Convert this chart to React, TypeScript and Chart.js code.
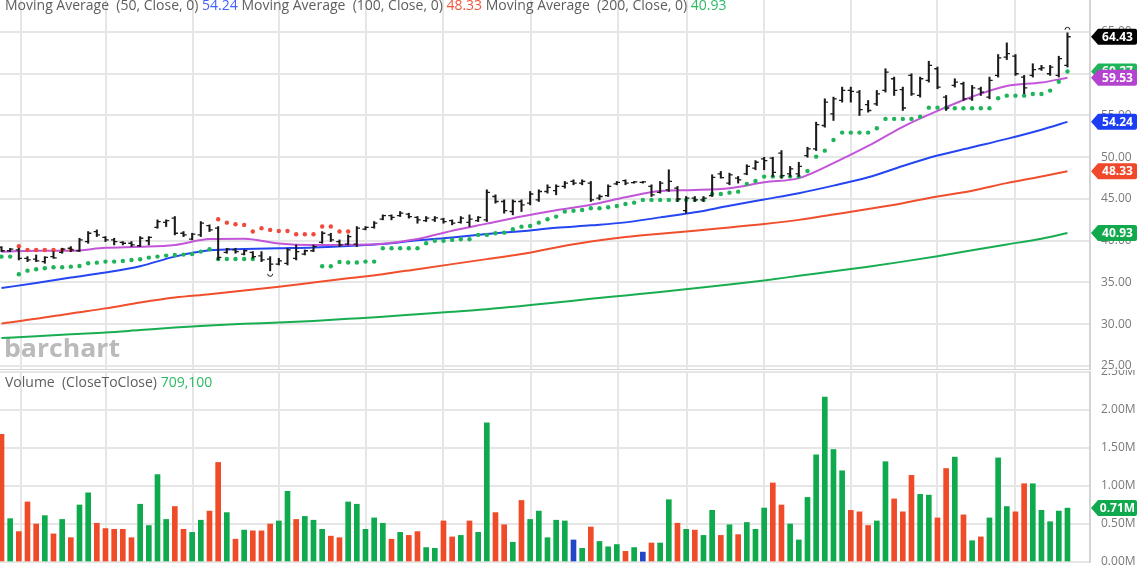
import React, { useEffect, useRef } from "react";
import { Chart, registerables } from "chart.js";

Chart.register(...registerables);

// ---------- DATA ----------
const opens = [
  39.2, 38.8, 38.9, 37.9, 37.8, 37.5, 38.1, 38.6, 39.1, 38.8,
  39.9, 41.1, 40.4, 40.1, 39.8, 39.7, 39.4, 40.0, 41.6, 42.2,
  42.7, 40.9, 40.2, 40.7, 41.8, 41.5, 38.6, 38.9, 38.4, 38.6,
  38.2, 37.8, 37.2, 37.3, 37.9, 38.4, 38.8, 39.8, 40.7, 39.9,
  39.6, 39.6, 41.4, 41.6, 42.6, 43.0, 43.0, 43.2, 42.8, 42.4,
  42.5, 42.6, 42.4, 42.2, 42.2, 42.4, 42.5, 45.3, 44.7, 43.5,
  44.7, 44.5, 44.9, 45.9, 46.0, 46.5, 47.1, 46.9, 46.9, 45.1,
  45.4, 46.8, 47.2, 46.95, 47.0, 46.5, 45.8, 46.1, 46.3, 43.6,
  45.1, 44.9, 45.4, 48.0, 46.9, 47.5, 48.0, 48.7, 49.8, 49.9,
  50.5, 48.0, 48.0, 50.2, 51.0, 53.8, 55.2, 56.8, 58.0, 57.8,
  56.3, 56.4, 58.0, 59.4, 58.1, 59.8, 57.4, 59.2, 60.6, 57.2,
  58.6, 58.8, 57.0, 58.2, 57.2, 59.8, 62.0, 62.1, 59.6, 59.8,
  60.6, 60.0, 59.8, 61.0,
];
const highs = [
  39.3, 39.1, 39.1, 38.1, 38.3, 38.1, 38.7, 39.1, 39.3, 40.3,
  41.1, 41.3, 40.5, 40.3, 39.9, 39.9, 40.5, 40.5, 42.5, 42.5,
  42.9, 41.1, 40.9, 42.3, 41.9, 41.7, 39.1, 39.1, 38.9, 38.7,
  38.7, 38.1, 37.9, 39.1, 39.5, 38.9, 39.5, 41.1, 40.9, 40.1,
  40.7, 41.7, 41.7, 42.3, 43.1, 43.1, 43.5, 43.3, 42.9, 42.9,
  42.9, 42.7, 42.5, 42.9, 43.1, 42.9, 46.1, 45.5, 44.9, 44.9,
  44.9, 45.9, 46.1, 46.7, 46.7, 47.1, 47.3, 47.3, 47.1, 45.5,
  46.7, 47.1, 47.3, 47.1, 47.1, 46.7, 47.1, 48.5, 46.5, 45.3,
  45.3, 45.3, 47.9, 48.3, 48.1, 47.7, 49.1, 49.6, 50.0, 50.0,
  50.8, 48.9, 49.4, 51.2, 54.2, 57.0, 57.2, 58.4, 58.4, 58.0,
  56.8, 58.0, 60.6, 59.6, 58.4, 60.0, 59.6, 61.5, 60.8, 57.4,
  59.4, 59.0, 58.6, 58.4, 59.6, 62.3, 63.7, 62.3, 59.8, 61.2,
  61.0, 61.0, 62.1, 64.9,
];
const lows = [
  38.7, 38.7, 37.7, 37.5, 37.5, 37.3, 37.9, 38.5, 38.7, 38.7,
  39.7, 40.5, 39.9, 39.5, 39.5, 39.3, 39.3, 39.5, 41.5, 41.7,
  40.7, 40.5, 40.1, 40.5, 41.1, 37.7, 38.5, 38.5, 38.3, 37.9,
  37.5, 36.4, 37.1, 37.1, 37.7, 38.3, 38.7, 39.7, 39.9, 39.3,
  39.5, 39.3, 41.3, 41.5, 42.5, 42.5, 42.9, 42.7, 42.1, 42.3,
  42.3, 42.1, 41.9, 42.1, 41.7, 42.3, 42.3, 44.5, 43.3, 43.1,
  43.5, 44.3, 44.7, 45.7, 45.5, 46.3, 46.7, 46.7, 44.7, 44.9,
  45.3, 46.7, 46.7, 46.9, 46.9, 45.3, 45.7, 45.9, 44.7, 43.3,
  44.7, 44.7, 45.3, 47.5, 46.7, 46.9, 47.9, 48.5, 48.5, 47.7,
  47.5, 47.7, 47.7, 50.0, 50.8, 53.6, 54.4, 56.6, 56.6, 55.0,
  55.4, 56.2, 57.8, 57.4, 55.6, 57.4, 57.2, 59.0, 58.2, 55.6,
  58.4, 56.8, 56.8, 57.4, 57.0, 59.6, 61.7, 59.8, 57.6, 59.6,
  60.4, 59.8, 59.6, 60.8,
];
const closes = [
  38.8, 39.0, 37.9, 37.7, 37.6, 38.0, 37.95, 39.0, 38.9, 40.1,
  40.9, 40.7, 40.1, 39.9, 39.7, 39.5, 40.3, 40.4, 42.3, 42.4,
  40.9, 40.7, 40.8, 42.1, 41.3, 38.0, 39.0, 38.7, 38.8, 38.1,
  37.7, 37.2, 37.6, 38.9, 38.7, 38.8, 39.3, 40.9, 40.1, 39.5,
  40.5, 41.5, 41.6, 42.1, 43.0, 42.8, 43.3, 42.9, 42.5, 42.7,
  42.75, 42.3, 42.1, 42.7, 42.6, 42.8, 45.8, 44.7, 43.6, 44.7,
  44.3, 45.6, 45.9, 46.4, 46.5, 46.9, 46.9, 47.1, 44.9, 45.3,
  46.5, 47.0, 46.9, 47.05, 47.05, 45.5, 46.9, 47.1, 45.0, 45.1,
  44.9, 45.1, 47.6, 47.55, 47.9, 47.3, 48.9, 49.4, 49.6, 48.2,
  47.8, 48.6, 48.9, 51.0, 53.9, 56.6, 57.0, 58.0, 57.9, 55.7,
  55.6, 57.6, 60.2, 58.0, 55.9, 57.6, 59.4, 61.0, 58.4, 55.9,
  59.0, 57.0, 58.3, 57.8, 59.2, 61.9, 62.4, 60.0, 58.3, 60.5,
  60.7, 60.8, 61.8, 64.43,
];

// volume in millions
const volumes = [
  1.68, 0.57, 0.40, 0.79, 0.50, 0.61, 0.37, 0.56, 0.32, 0.75,
  0.91, 0.51, 0.44, 0.43, 0.43, 0.32, 0.76, 0.48, 1.15, 0.56,
  0.73, 0.43, 0.39, 0.55, 0.67, 1.31, 0.65, 0.30, 0.42, 0.41,
  0.41, 0.50, 0.54, 0.93, 0.56, 0.60, 0.55, 0.43, 0.34, 0.32,
  0.79, 0.76, 0.43, 0.58, 0.51, 0.30, 0.39, 0.35, 0.40, 0.19,
  0.18, 0.54, 0.33, 0.35, 0.54, 0.39, 1.83, 0.65, 0.49, 0.26,
  0.81, 0.56, 0.67, 0.32, 0.55, 0.54, 0.29, 0.18, 0.46, 0.27,
  0.20, 0.23, 0.14, 0.19, 0.13, 0.25, 0.25, 0.82, 0.51, 0.43,
  0.42, 0.35, 0.68, 0.35, 0.49, 0.36, 0.52, 0.43, 0.71, 1.04,
  0.75, 0.50, 0.29, 0.85, 1.41, 2.17, 1.48, 1.20, 0.68, 0.66,
  0.48, 0.54, 1.32, 0.83, 0.66, 1.14, 0.89, 0.88, 0.58, 1.23,
  1.38, 0.62, 0.28, 0.33, 0.58, 1.37, 0.73, 0.66, 1.03, 1.03,
  0.68, 0.53, 0.67, 0.7091,
];
// close-to-close direction: g = up, r = down, b = unchanged
const volumeDirs = (
  "rgrrrgrgrg" + "grrrrrgggg" + "rrggrrgrgr" + "rrggrgggrr" +
  "gggggrgrrg" + "grrgrggrrg" + "rgggggbgrg" + "ggrgbrggrg" +
  "rggrgrgggr" + "rgggggggrr" + "rggrrrggrr" + "grgrgggrrg" + "gggg"
).split("");

const sarGreen = [
  38.1, 38.1, 35.99, 36.42, 36.59, 36.71, 36.83, 36.83, 36.9, 36.98,
  37.3, 37.38, 37.5, 37.5, 37.58, 37.7, 37.78, 37.98, 38.1, 38.22,
  38.3, 38.34, 38.42, 38.7, 38.98, 37.82, 37.82, 37.82, 37.82, 37.82,
  null, null, null, null, null, null, null, 36.95, 36.95, 37.45,
  37.4, 37.4, 37.5, 37.5, 39.1, 39.1, 39.1, 39.1, 39.1, 39.7,
  40.0, 40.0, 40.1, 40.18, 40.18, 40.7, 40.7, 40.9, 40.97, 41.38,
  41.69, 41.77, 42.17, 42.57, 42.89, 43.49, 43.6, 43.69, 43.89, 43.89,
  44.01, 44.17, 44.41, 44.56, 44.89, 44.89, 44.89, 44.89, 44.89, 44.89,
  44.89, 44.89, 45.6, 45.6, 45.76, 45.88, 46.8, 47.16, 47.68, 47.68,
  47.68, 47.68, 47.68, 48.36, 50.07, 50.79, 52.07, 52.95, 52.95, 52.95,
  52.95, 53.47, 54.59, 54.59, 54.59, 54.59, 54.86, 55.94, 55.94, 55.94,
  55.87, 55.87, 55.87, 55.87, 55.87, 57.07, 57.38, 57.38, 57.38, 57.58,
  57.58, 57.98, 59.05, 60.27,
];
const sarRed = [
  null, null, 39.35, 38.9, 38.9, 38.9, 38.9, 38.9, 38.9, null,
  null, null, null, null, null, null, null, null, null, null,
  null, null, null, null, null, 42.57, 42.17, 41.98, 41.9, 41.1,
  41.5, 41.3, 41.17, 41.17, 40.78, 40.78, 40.78, 41.7, 41.7, 41.1,
  41.1,
];

// moving averages, read at every 4th bar (bar index in maIdx)
const maIdx = [0, 4, 8, 12, 16, 20, 24, 28, 32, 36, 40, 44, 48, 52, 56, 60, 64, 68, 72, 76, 80, 84, 88, 92, 96, 100, 104, 108, 112, 116, 120, 123];
const maShort = [38.69, 38.81, 38.81, 39.15, 39.27, 39.5, 40.2, 40.25, 39.68, 39.5, 39.52, 39.65, 40.2, 41.2, 42.05, 42.9, 43.65, 44.3, 45.2, 45.95, 46.08, 46.3, 47.0, 47.5, 49.3, 51.35, 53.65, 55.55, 57.25, 58.54, 58.95, 59.53];
const ma50 = [34.33, 34.95, 35.6, 36.2, 36.95, 38.1, 38.85, 39.0, 39.1, 39.2, 39.38, 39.6, 40.05, 40.4, 40.8, 41.15, 41.55, 41.85, 42.2, 42.8, 43.4, 44.2, 44.95, 45.7, 46.6, 47.6, 48.95, 50.2, 51.2, 52.2, 53.3, 54.24];
const ma100 = [30.1, 30.65, 31.3, 31.9, 32.6, 33.2, 33.6, 34.05, 34.5, 35.0, 35.5, 36.0, 36.6, 37.2, 37.8, 38.4, 39.2, 39.9, 40.45, 40.85, 41.2, 41.6, 42.0, 42.5, 43.15, 43.8, 44.5, 45.3, 46.0, 46.9, 47.7, 48.33];
const ma200 = [28.35, 28.55, 28.8, 29.0, 29.3, 29.6, 29.85, 30.05, 30.2, 30.4, 30.65, 30.9, 31.2, 31.5, 31.8, 32.2, 32.6, 33.05, 33.45, 33.85, 34.3, 34.75, 35.25, 35.8, 36.35, 36.9, 37.5, 38.15, 38.85, 39.55, 40.25, 40.93];

const priceTicks = [25, 30, 35, 40, 45, 50, 55, 60, 65];
const volumeTicks = [0, 0.5, 1.0, 1.5, 2.0, 2.5];
const gridBars = [2.2, 12.1, 22.1, 32.0, 42.1, 51.0, 61.1, 71.1, 79.1, 88.0, 98.0, 108.0, 117.0];
const highMarkIdx = 123;
const lowMarkIdx = 31;

// ---------- STYLE ----------
const W = 1140;
const PRICE_H = 370;
const VOL_H = 200;
const AXIS_W = 50;
const X_MIN = -0.173;
const X_MAX = 125.6;
const FONT = '"Open Sans", "Noto Sans", sans-serif';
const GRID = "#e6e6e6";
const AXIS_LINE = "#d4d4d4";
const TICK_COLOR = "#7a7a7a";
const TEXT_GRAY = "#5e5e5e";
const C_PURPLE = "#c255d8";
const C_BLUE = "#2445f2";
const C_RED = "#f04e2c";
const C_GREEN = "#19ad52";
const C_SAR_GREEN = "#1fb45a";
const C_SAR_RED = "#f04a3a";
const VOL_COLORS: Record<string, string> = { g: "#10aa4e", r: "#f04b28", b: "#2147c6" };

const last = (a: number[]) => a[a.length - 1];

function drawBadge(ctx: CanvasRenderingContext2D, y: number, text: string, bg: string, left: number) {
  const h = 16;
  const tip = 7;
  const right = left + 46;
  ctx.beginPath();
  ctx.moveTo(left, y);
  ctx.lineTo(left + tip, y - h / 2);
  ctx.lineTo(right - 2, y - h / 2);
  ctx.quadraticCurveTo(right, y - h / 2, right, y - h / 2 + 2);
  ctx.lineTo(right, y + h / 2 - 2);
  ctx.quadraticCurveTo(right, y + h / 2, right - 2, y + h / 2);
  ctx.lineTo(left + tip, y + h / 2);
  ctx.closePath();
  ctx.fillStyle = bg;
  ctx.fill();
  ctx.fillStyle = "#ffffff";
  ctx.font = `bold 12px ${FONT}`;
  ctx.textAlign = "center";
  ctx.textBaseline = "middle";
  ctx.fillText(text, (left + tip + right) / 2, y + 0.5);
}

function drawParts(ctx: CanvasRenderingContext2D, x: number, y: number, parts: [string, string][]) {
  ctx.font = `14px ${FONT}`;
  ctx.textAlign = "left";
  ctx.textBaseline = "alphabetic";
  let cx = x;
  for (const [t, c] of parts) {
    ctx.fillStyle = c;
    ctx.fillText(t, cx, y);
    cx += ctx.measureText(t).width;
  }
}

const noPad = (s: any) => {
  s.paddingTop = 0;
  s.paddingBottom = 0;
  s.paddingLeft = 0;
  s.paddingRight = 0;
};

const xScaleCfg = () => ({
  type: "linear",
  min: X_MIN,
  max: X_MAX,
  offset: false,
  grid: { color: GRID, lineWidth: 2, drawTicks: false, offset: false },
  ticks: { display: false },
  border: { display: false },
  afterBuildTicks: (s: any) => {
    s.ticks = gridBars.map((v) => ({ value: v }));
  },
  afterFit: (s: any) => {
    s.height = 0;
    noPad(s);
  },
});

const yAfterFit = (s: any) => {
  s.width = AXIS_W;
  noPad(s);
};

const pricePlugin = {
  id: "pricePlugin",
  beforeDatasetsDraw(chart: any) {
    const ctx: CanvasRenderingContext2D = chart.ctx;
    ctx.save();
    ctx.font = `bold 25px ${FONT}`;
    ctx.fillStyle = "#bababa";
    ctx.textBaseline = "alphabetic";
    ctx.textAlign = "left";
    const w = ctx.measureText("barchart").width;
    ctx.translate(4, 357);
    ctx.scale(116 / w, 1);
    ctx.fillText("barchart", 0, 0);
    ctx.restore();
  },
  afterDatasetsDraw(chart: any) {
    const ctx: CanvasRenderingContext2D = chart.ctx;
    const xs = chart.scales.x;
    const ys = chart.scales.y;
    ctx.save();
    ctx.strokeStyle = "#1a1a1a";
    ctx.lineWidth = 1.3;
    ctx.beginPath();
    for (let i = 0; i < opens.length; i++) {
      const x = xs.getPixelForValue(i);
      const yo = ys.getPixelForValue(opens[i]);
      const yc = ys.getPixelForValue(closes[i]);
      ctx.moveTo(x - 3.2, yo);
      ctx.lineTo(x, yo);
      ctx.moveTo(x, yc);
      ctx.lineTo(x + 3.2, yc);
    }
    ctx.stroke();
    ctx.lineWidth = 1;
    ctx.beginPath();
    const hx = xs.getPixelForValue(highMarkIdx);
    const hy = ys.getPixelForValue(highs[highMarkIdx]);
    ctx.arc(hx, hy - 3, 2.5, Math.PI, 2 * Math.PI);
    ctx.stroke();
    ctx.beginPath();
    const lx = xs.getPixelForValue(lowMarkIdx);
    const ly = ys.getPixelForValue(lows[lowMarkIdx]);
    ctx.arc(lx, ly + 3, 2.5, 0, Math.PI);
    ctx.stroke();
    ctx.restore();
  },
  afterDraw(chart: any) {
    const ctx: CanvasRenderingContext2D = chart.ctx;
    const ys = chart.scales.y;
    const left = chart.chartArea.right + 1;
    ctx.save();
    drawParts(ctx, 5, 10, [
      ["Moving Average  (50, Close, 0) ", TEXT_GRAY],
      [last(ma50).toFixed(2), "#4262ff"],
      [" Moving Average  (100, Close, 0) ", TEXT_GRAY],
      [last(ma100).toFixed(2), "#f2573c"],
      [" Moving Average  (200, Close, 0) ", TEXT_GRAY],
      [last(ma200).toFixed(2), "#2bbb64"],
    ]);
    const badges: [number, string][] = [
      [last(sarGreen as number[]), C_SAR_GREEN],
      [last(closes), "#000000"],
      [last(maShort), "#b444d0"],
      [last(ma50), "#1b3ef5"],
      [last(ma100), "#f0482a"],
      [last(ma200), "#12a94d"],
    ];
    for (const [v, c] of badges) {
      drawBadge(ctx, ys.getPixelForValue(v), v.toFixed(2), c, left);
    }
    ctx.restore();
  },
};

const volumePlugin = {
  id: "volumePlugin",
  afterDraw(chart: any) {
    const ctx: CanvasRenderingContext2D = chart.ctx;
    const ys = chart.scales.y;
    const left = chart.chartArea.right + 1;
    ctx.save();
    const lv = last(volumes);
    drawParts(ctx, 5, 17, [
      ["Volume  (CloseToClose) ", TEXT_GRAY],
      [Math.round(lv * 1e6).toLocaleString("en-US"), "#2bbb64"],
    ]);
    drawBadge(ctx, ys.getPixelForValue(lv), lv.toFixed(2) + "M", "#10aa4e", left);
    ctx.restore();
  },
};

function priceConfig(): any {
  const line = (data: number[], color: string) => ({
    type: "line",
    data: maIdx.map((k, i) => ({ x: k, y: data[i] })),
    borderColor: color,
    borderWidth: 2,
    pointRadius: 0,
    pointHoverRadius: 0,
    cubicInterpolationMode: "monotone",
  });
  const dots = (data: (number | null)[], color: string) => ({
    type: "line",
    data: data.map((v, i) => ({ x: i, y: v })),
    showLine: false,
    pointRadius: 2.2,
    pointHoverRadius: 0,
    pointBackgroundColor: color,
    pointBorderWidth: 0,
  });
  return {
    type: "line",
    data: {
      datasets: [
        {
          type: "bar",
          data: highs.map((h, i) => ({ x: i, y: [lows[i], h] })),
          backgroundColor: "#1a1a1a",
          barThickness: 1.4,
        },
        dots(sarGreen, C_SAR_GREEN),
        dots(sarRed, C_SAR_RED),
        line(maShort, C_PURPLE),
        line(ma50, C_BLUE),
        line(ma100, C_RED),
        line(ma200, C_GREEN),
      ],
    },
    options: {
      animation: false,
      responsive: false,
      maintainAspectRatio: false,
      events: [],
      layout: { padding: 0, autoPadding: false },
      plugins: { legend: { display: false }, tooltip: { enabled: false } },
      scales: {
        x: {
          ...xScaleCfg(),
          border: { display: true, color: AXIS_LINE, width: 2 },
        },
        y: {
          type: "linear",
          position: "right",
          min: 24.521,
          max: 68.832,
          afterBuildTicks: (s: any) => {
            s.ticks = priceTicks.map((v) => ({ value: v }));
          },
          afterFit: yAfterFit,
          grid: { color: GRID, lineWidth: 2, drawTicks: false },
          border: { display: true, color: AXIS_LINE, width: 2 },
          ticks: {
            padding: 11,
            color: TICK_COLOR,
            font: { family: FONT, size: 12 },
            callback: (v: any) => Number(v).toFixed(2),
          },
        },
      },
    },
    plugins: [pricePlugin],
  };
}

function volumeConfig(): any {
  return {
    type: "line",
    data: {
      datasets: [
        {
          type: "bar",
          data: volumes.map((v, i) => ({ x: i, y: v })),
          backgroundColor: volumeDirs.map((d) => VOL_COLORS[d]),
          barThickness: 5,
        },
      ],
    },
    options: {
      animation: false,
      responsive: false,
      maintainAspectRatio: false,
      events: [],
      layout: { padding: { top: 2, bottom: 8, left: 0, right: 0 }, autoPadding: false },
      plugins: { legend: { display: false }, tooltip: { enabled: false } },
      scales: {
        x: xScaleCfg(),
        y: {
          type: "linear",
          position: "right",
          min: 0,
          max: 2.5,
          afterBuildTicks: (s: any) => {
            s.ticks = volumeTicks.map((v) => ({ value: v }));
          },
          afterFit: yAfterFit,
          grid: { color: GRID, lineWidth: 2, drawTicks: false },
          border: { display: true, color: AXIS_LINE, width: 2 },
          ticks: {
            padding: 11,
            color: TICK_COLOR,
            font: { family: FONT, size: 12 },
            callback: (v: any) => Number(v).toFixed(2) + "M",
          },
        },
      },
    },
    plugins: [volumePlugin],
  };
}

export default function App() {
  const priceRef = useRef<HTMLCanvasElement>(null);
  const volRef = useRef<HTMLCanvasElement>(null);
  useEffect(() => {
    const pc = new Chart(priceRef.current as HTMLCanvasElement, priceConfig());
    const vc = new Chart(volRef.current as HTMLCanvasElement, volumeConfig());
    return () => {
      pc.destroy();
      vc.destroy();
    };
  }, []);
  return (
    <div
      style={{
        position: "fixed",
        left: 0,
        top: 0,
        width: W,
        height: 570,
        background: "#ffffff",
        overflow: "hidden",
      }}
    >
      <canvas ref={priceRef} width={W} height={PRICE_H} style={{ display: "block", width: W, height: PRICE_H }} />
      <canvas ref={volRef} width={W} height={VOL_H} style={{ display: "block", width: W, height: VOL_H }} />
    </div>
  );
}
